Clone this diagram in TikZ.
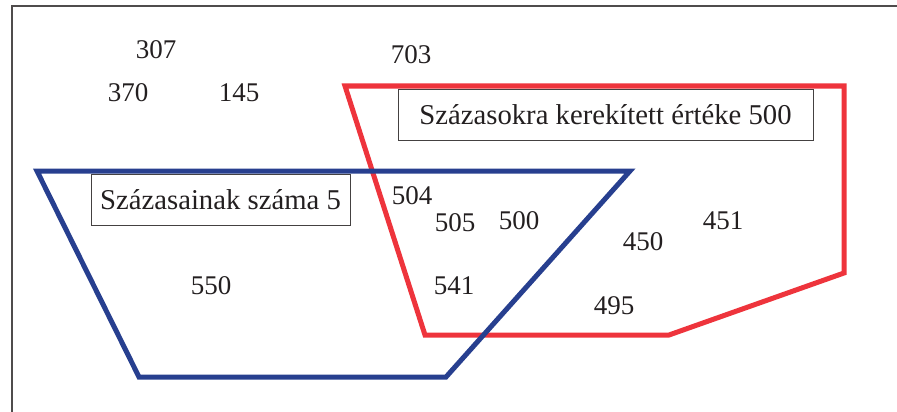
\documentclass[tikz,border=0pt]{standalone}
\usepackage{fontspec}
\setmainfont{Liberation Serif}
\definecolor{vred}{RGB}{238,52,60}
\definecolor{vblue}{RGB}{39,63,143}
\definecolor{ink}{RGB}{35,31,32}
\begin{document}
\begin{tikzpicture}[x=1pt,y=-1pt,
  num/.style={text=ink,font=\fontsize{27}{30}\selectfont,inner sep=0pt},
  label box/.style={draw=ink!85,line width=1pt,text=ink,font=\fontsize{28.7}{32}\selectfont,inner sep=0pt,minimum height=51pt},
  setline/.style={line width=5pt,line join=miter}]
\useasboundingbox (0,0) rectangle (897,412);
% frame
\draw[ink!80,line width=1.2pt] (12,412) -- (12,6) -- (897,6);
% red set
\coordinate (r1) at (345,86);
\coordinate (r2) at (844,86);
\coordinate (r3) at (844,273);
\coordinate (r4) at (669,335);
\coordinate (r5) at (425,335);
\draw[setline,vred] (r1) -- (r2) -- (r3) -- (r4) -- (r5) -- cycle;
% blue set
\coordinate (b1) at (37,171);
\coordinate (b2) at (630,171);
\coordinate (b3) at (446,377);
\coordinate (b4) at (139,377);
\draw[setline,vblue] (b1) -- (b2) -- (b3) -- (b4) -- cycle;
% labels
\node[label box,minimum width=415pt] (lr) at (605.5,114.5) {Százasokra kerekített értéke 500};
\node[label box,minimum width=259pt] (lb) at (220.5,199.5) {Százasainak száma 5};
% numbers
\node[num] (n307) at (156,50) {307};
\node[num] (n703) at (411,55) {703};
\node[num] (n370) at (128,93) {370};
\node[num] (n145) at (239,93) {145};
\node[num] (n504) at (412,196) {504};
\node[num] (n505) at (455,223) {505};
\node[num] (n500) at (519,221) {500};
\node[num] (n450) at (643,242) {450};
\node[num] (n451) at (723,221) {451};
\node[num] (n541) at (454,286) {541};
\node[num] (n495) at (614,306) {495};
\node[num] (n550) at (211,286) {550};
\end{tikzpicture}
\end{document}
